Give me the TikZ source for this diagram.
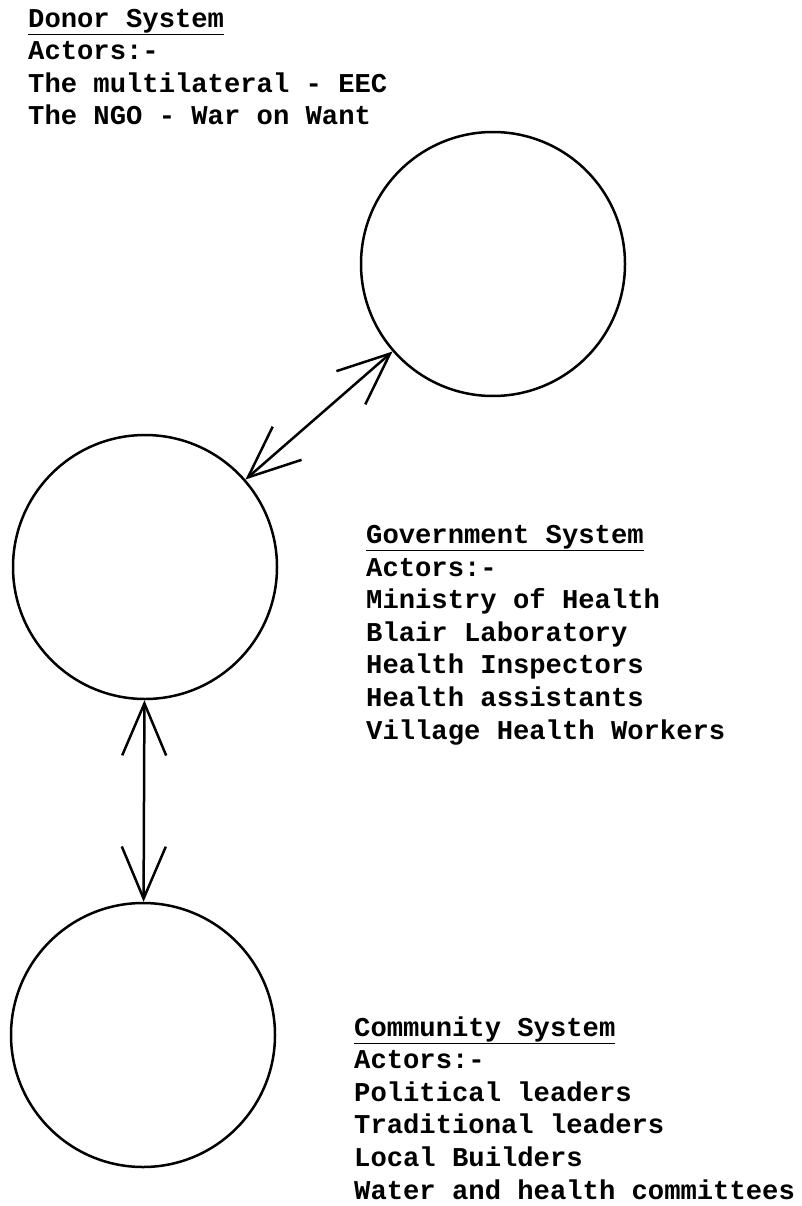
\documentclass[tikz,border=0pt]{standalone}
\usepackage{fontspec}
\usepackage{tikz}
\usetikzlibrary{arrows.meta}
\newfontfamily\actorsfont{Liberation Mono}

\tikzset{
  system/.style={circle, draw, line width=2.5pt, minimum size=264pt, inner sep=0pt},
  actors/.style={anchor=base west, align=left, inner sep=0pt,
    font=\actorsfont\bfseries\fontsize{27.2}{32.6}\selectfont},
  link/.style={line width=2.5pt,
    {Straight Barb[length=52pt,width=44pt]}-{Straight Barb[length=52pt,width=44pt]}}
}

\begin{document}
\begin{tikzpicture}[x=1pt,y=-1pt]
    \useasboundingbox (0,0) rectangle (801,1206);

    \node[system] (donor) at (493,264)  {};
    \node[system] (gov)   at (145,567)  {};
    \node[system] (comm)  at (143,1035) {};

    \draw[link] (gov) -- (donor);
    \draw[link] (gov) -- (comm);

    % base west sits on the last line
    \node[actors] (donortext) at (28,125)
        {\underline{Donor System}\\Actors:-\\The multilateral - EEC\\The NGO - War on Want};
    \node[actors] (govtext) at (366,739)
        {\underline{Government System}\\Actors:-\\Ministry of Health\\Blair Laboratory\\Health Inspectors\\Health assistants\\Village Health Workers};
    \node[actors] (commtext) at (354,1199)
        {\underline{Community System}\\Actors:-\\Political leaders\\Traditional leaders\\Local Builders\\Water and health committees};

\end{tikzpicture}
\end{document}
